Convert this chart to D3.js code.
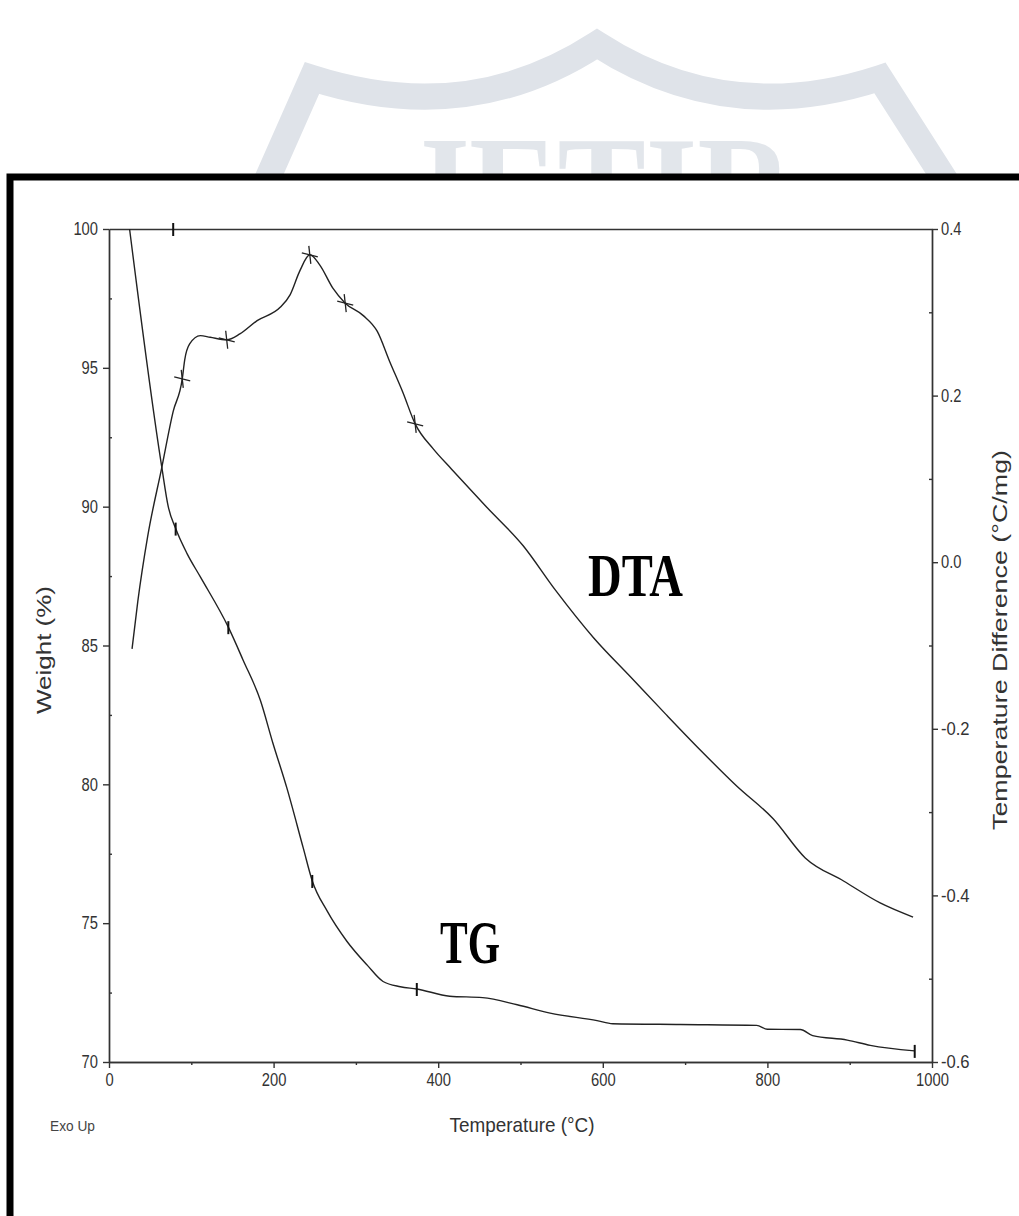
<!DOCTYPE html>
<html>
<head>
<meta charset="utf-8">
<script src="https://cdn.jsdelivr.net/npm/d3@7"></script>
<style>
  body { margin: 0; background: #fff; }
  svg { display: block; }
  .tick text { font-family: "Liberation Sans", Arial, sans-serif; font-size: 18px; fill: #333; }
  .axis path, .axis line { stroke: #333; stroke-width: 1.4; }
</style>
</head>
<body>
<div id="chart"></div>
<script>
// TG / DTA thermogram
const tgTemp = [25, 64, 72, 81, 95, 111, 145, 163, 184, 199, 216, 236, 247, 265, 289, 314, 333, 354, 374, 414, 454, 496, 536, 593, 612, 694, 787, 800, 840, 855, 897, 925, 979];
const tgWeight = [100.0, 91.45, 90.0, 89.21, 88.30, 87.47, 85.66, 84.47, 83.02, 81.5, 79.88, 77.71, 76.52, 75.44, 74.35, 73.48, 72.9, 72.71, 72.63, 72.37, 72.32, 72.06, 71.76, 71.49, 71.38, 71.35, 71.32, 71.18, 71.17, 70.95, 70.79, 70.60, 70.40];

const dtaTemp = [28, 35, 47, 64, 78, 89, 92, 98, 111, 123, 143, 159, 180, 208, 220, 232, 244, 256, 272, 287, 309, 326, 341, 357, 372, 394, 416, 459, 503, 542, 589, 633, 677, 719, 763, 807, 846, 893, 937, 977];
const dtaDiff = [-0.104, -0.047, 0.031, 0.113, 0.181, 0.220, 0.243, 0.262, 0.272, 0.270, 0.267, 0.274, 0.290, 0.306, 0.321, 0.350, 0.369, 0.357, 0.329, 0.311, 0.296, 0.277, 0.241, 0.204, 0.166, 0.136, 0.112, 0.066, 0.020, -0.033, -0.091, -0.137, -0.183, -0.226, -0.269, -0.308, -0.355, -0.383, -0.409, -0.426];

// step markers on the curves
const tgMarkTemp = [78, 81, 145, 247, 374, 979];
const tgMarkWeight = [100, 89.21, 85.66, 76.52, 72.63, 70.40];
const dtaMarkTemp = [89, 143, 244, 287, 372];
const dtaMarkDiff = [0.220, 0.267, 0.369, 0.311, 0.166];

// ticks
const tempTicks = [0, 200, 400, 600, 800, 1000];
const tempMinor = [100, 300, 500, 700, 900];
const weightTicks = [70, 75, 80, 85, 90, 95, 100];
const weightMinor = [72.5, 77.5, 82.5, 87.5, 92.5, 97.5];
const diffTicks = [-0.6, -0.4, -0.2, 0.0, 0.2, 0.4];
const diffMinor = [-0.5, -0.3, -0.1, 0.1, 0.3];

const width = 1019, height = 1216;
const plotLeft = 109, plotRight = 932, plotTop = 229, plotBottom = 1062;

const svg = d3.select("#chart").append("svg")
    .attr("width", width).attr("height", height);

svg.append("rect").attr("width", width).attr("height", height).attr("fill", "#fff");

// faint journal watermark above the figure frame
const wm = svg.append("g").attr("fill", "none").attr("stroke", "#dfe3e9");
wm.append("path")
    .attr("stroke-width", 26)
    .attr("stroke-linejoin", "miter")
    .attr("d", "M258,200 L312,78 Q468,128 597,44 Q727,128 880,78 L958,200");
svg.append("text")
    .attr("x", 403).attr("y", 240)
    .attr("textLength", 390).attr("lengthAdjust", "spacingAndGlyphs")
    .style("font-family", "'Liberation Serif', 'Times New Roman', serif")
    .style("font-weight", "bold").style("font-size", "150px")
    .attr("fill", "#e2e6eb")
    .text("JETIR");

// black frame of the pasted figure
svg.append("rect")
    .attr("x", 10).attr("y", 177).attr("width", 1040).attr("height", 1080)
    .attr("fill", "#fff").attr("stroke", "#000").attr("stroke-width", 7);

const x = d3.scaleLinear().domain([0, 1000]).range([plotLeft, plotRight]);
const yW = d3.scaleLinear().domain([70, 100]).range([plotBottom, plotTop]);
const yD = d3.scaleLinear().domain([-0.6, 0.4]).range([plotBottom, plotTop]);

// squeeze tick labels like the scanned narrow font
function narrow(g) {
    g.selectAll(".tick text").each(function () {
        const s = this.textContent;
        if (!s) return;
        let w = 0;
        for (const c of s) w += (c === "." ? 4 : 8.2);
        d3.select(this).attr("textLength", w).attr("lengthAdjust", "spacingAndGlyphs");
    });
}

// axes
svg.append("g").attr("class", "axis").attr("transform", `translate(0,${plotBottom})`)
    .call(d3.axisBottom(x).tickValues(tempTicks).tickSize(6).tickSizeOuter(0).tickPadding(5).tickFormat(d3.format("d")))
    .call(narrow);
svg.append("g").attr("class", "axis").attr("transform", `translate(0,${plotBottom})`)
    .call(d3.axisBottom(x).tickValues(tempMinor).tickSize(3).tickSizeOuter(0).tickFormat(""));

svg.append("g").attr("class", "axis").attr("transform", `translate(${plotLeft},0)`)
    .call(d3.axisLeft(yW).tickValues(weightTicks).tickSize(6).tickSizeOuter(0).tickPadding(5).tickFormat(d3.format("d")))
    .call(narrow);
svg.append("g").attr("class", "axis").attr("transform", `translate(${plotLeft},0)`)
    .call(d3.axisLeft(yW).tickValues(weightMinor).tickSize(-3).tickSizeOuter(0).tickFormat(""));

svg.append("g").attr("class", "axis").attr("transform", `translate(${plotRight},0)`)
    .call(d3.axisRight(yD).tickValues(diffTicks).tickSize(6).tickSizeOuter(0).tickPadding(3).tickFormat(d => d.toFixed(1)))
    .call(narrow);
svg.append("g").attr("class", "axis").attr("transform", `translate(${plotRight},0)`)
    .call(d3.axisRight(yD).tickValues(diffMinor).tickSize(-3).tickSizeOuter(0).tickFormat(""));

// top border line
svg.append("g").attr("class", "axis").attr("transform", `translate(0,${plotTop})`)
    .call(d3.axisTop(x).tickValues([]).tickSizeOuter(0));

// curves
const tgLine = d3.line().x(i => x(tgTemp[i])).y(i => yW(tgWeight[i])).curve(d3.curveMonotoneX);
const dtaLine = d3.line().x(i => x(dtaTemp[i])).y(i => yD(dtaDiff[i])).curve(d3.curveMonotoneX);

svg.append("path").attr("d", tgLine(d3.range(tgTemp.length)))
    .attr("fill", "none").attr("stroke", "#222").attr("stroke-width", 1.4);
svg.append("path").attr("d", dtaLine(d3.range(dtaTemp.length)))
    .attr("fill", "none").attr("stroke", "#222").attr("stroke-width", 1.4);

// markers
svg.append("g").selectAll("line").data(d3.range(tgMarkTemp.length)).join("line")
    .attr("x1", i => x(tgMarkTemp[i])).attr("x2", i => x(tgMarkTemp[i]))
    .attr("y1", i => yW(tgMarkWeight[i]) - 6).attr("y2", i => yW(tgMarkWeight[i]) + 7)
    .attr("stroke", "#111").attr("stroke-width", 2);

const dm = svg.append("g").attr("stroke", "#222").attr("stroke-width", 1.3);
dm.selectAll("line.h").data(d3.range(dtaMarkTemp.length)).join("line").attr("class", "h")
    .attr("x1", i => x(dtaMarkTemp[i]) - 8).attr("x2", i => x(dtaMarkTemp[i]) + 8)
    .attr("y1", i => yD(dtaMarkDiff[i]) - 2).attr("y2", i => yD(dtaMarkDiff[i]) + 2);
dm.selectAll("line.v").data(d3.range(dtaMarkTemp.length)).join("line").attr("class", "v")
    .attr("x1", i => x(dtaMarkTemp[i]) - 1).attr("x2", i => x(dtaMarkTemp[i]) + 1)
    .attr("y1", i => yD(dtaMarkDiff[i]) - 9).attr("y2", i => yD(dtaMarkDiff[i]) + 9);

// axis titles
const sans = "'Liberation Sans', Arial, sans-serif";
svg.append("text")
    .attr("transform", "translate(51,650) rotate(-90)")
    .attr("text-anchor", "middle").attr("fill", "#333")
    .attr("textLength", 128).attr("lengthAdjust", "spacingAndGlyphs")
    .style("font-family", sans).style("font-size", "20px")
    .text("Weight (%)");
svg.append("text")
    .attr("transform", "translate(1007,640) rotate(-90)")
    .attr("text-anchor", "middle").attr("fill", "#333")
    .attr("textLength", 380).attr("lengthAdjust", "spacingAndGlyphs")
    .style("font-family", sans).style("font-size", "20px")
    .text("Temperature Difference (°C/mg)");
svg.append("text")
    .attr("x", 522).attr("y", 1132)
    .attr("text-anchor", "middle").attr("fill", "#333")
    .attr("textLength", 145).attr("lengthAdjust", "spacingAndGlyphs")
    .style("font-family", sans).style("font-size", "21px")
    .text("Temperature (°C)");
svg.append("text")
    .attr("x", 50).attr("y", 1131).attr("fill", "#444")
    .attr("textLength", 45).attr("lengthAdjust", "spacingAndGlyphs")
    .style("font-family", sans).style("font-size", "14px")
    .text("Exo Up");

// curve labels
const serif = "'Liberation Serif', 'Times New Roman', serif";
svg.append("text")
    .attr("x", 588).attr("y", 596)
    .attr("textLength", 95).attr("lengthAdjust", "spacingAndGlyphs")
    .style("font-family", serif).style("font-weight", "bold").style("font-size", "62px")
    .attr("fill", "#000").text("DTA");
svg.append("text")
    .attr("x", 440).attr("y", 963)
    .attr("textLength", 60).attr("lengthAdjust", "spacingAndGlyphs")
    .style("font-family", serif).style("font-weight", "bold").style("font-size", "62px")
    .attr("fill", "#000").text("TG");
</script>
</body>
</html>
